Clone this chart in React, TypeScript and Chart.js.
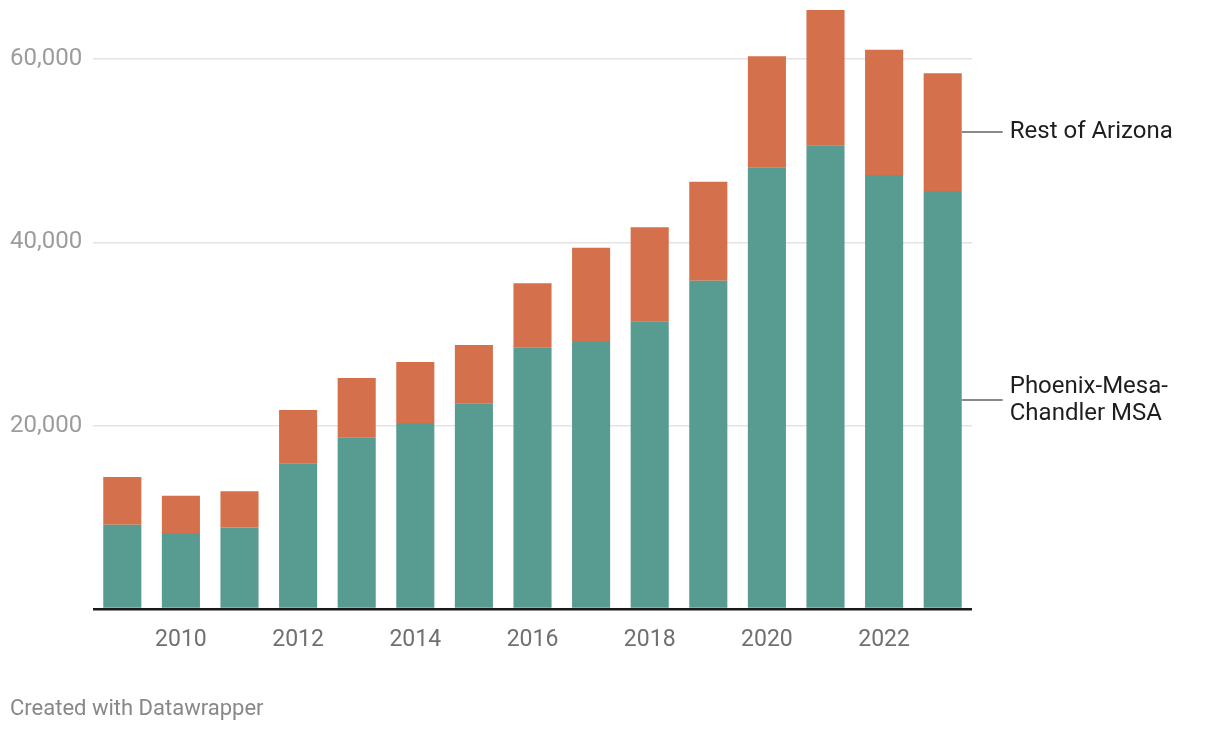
import React, { useEffect, useRef } from "react";
import { Chart, registerables } from "chart.js";

Chart.register(...registerables);

const years = ["2009","2010","2011","2012","2013","2014","2015","2016","2017","2018","2019","2020","2021","2022","2023"];
const phoenix = [9200, 8300, 8900, 15900, 18750, 20300, 22450, 28550, 29250, 31400, 35800, 48200, 50600, 47350, 45600];
const restOfArizona = [5200, 4050, 3950, 5800, 6450, 6650, 6350, 7000, 10150, 10250, 10800, 12100, 14750, 13650, 12850];
const yTicks = [20000, 40000, 60000];
const seriesLabels = ["Phoenix-Mesa-\nChandler MSA", "Rest of Arizona"];

const GREEN = "#579b91";
const ORANGE = "#d4704c";

export default function App() {
  const ref = useRef<HTMLCanvasElement | null>(null);
  useEffect(() => {
    if (!ref.current) return;
    const labelPlugin = {
      id: "endLabels",
      afterDraw(chart: any) {
        const ctx = chart.ctx;
        const y = chart.scales.y;
        ctx.save();
        // y tick labels
        ctx.fillStyle = "#9c9c9c";
        ctx.font = "24px Roboto";
        ctx.textBaseline = "middle";
        ctx.textAlign = "left";
        yTicks.forEach((v) => {
          ctx.fillText(v.toLocaleString("en-US"), 10, y.getPixelForValue(v));
        });
        const last = years.length - 1;
        const meta0 = chart.getDatasetMeta(0).data[last];
        const barRight = meta0.x + meta0.width / 2;
        const segs = [
          { lo: 0, hi: phoenix[last], text: seriesLabels[0] },
          { lo: phoenix[last], hi: phoenix[last] + restOfArizona[last], text: seriesLabels[1] },
        ];
        segs.forEach((s) => {
          const mid = (y.getPixelForValue(s.lo) + y.getPixelForValue(s.hi)) / 2;
          ctx.strokeStyle = "#8a8a8a";
          ctx.lineWidth = 2;
          ctx.beginPath();
          ctx.moveTo(barRight, mid);
          ctx.lineTo(barRight + 41, mid);
          ctx.stroke();
          ctx.fillStyle = "#1e1e1e";
          ctx.font = "24px Roboto";
          ctx.textBaseline = "middle";
          ctx.textAlign = "left";
          const lines = s.text.split("\n");
          const lh = 27;
          lines.forEach((ln, i) => {
            ctx.fillText(ln, barRight + 48, mid + (i - (lines.length - 1) / 2) * lh);
          });
        });
        ctx.restore();
      },
    };
    const chart = new Chart(ref.current, {
      type: "bar",
      data: {
        labels: years,
        datasets: [
          { label: "Phoenix-Mesa-Chandler MSA", data: phoenix, backgroundColor: GREEN, barPercentage: 0.65, categoryPercentage: 1 },
          { label: "Rest of Arizona", data: restOfArizona, backgroundColor: ORANGE, barPercentage: 0.65, categoryPercentage: 1 },
        ],
      },
      options: {
        responsive: false,
        animation: false,
        layout: { padding: { left: 0, top: 4, right: 248, bottom: 0 } },
        plugins: { legend: { display: false }, tooltip: { enabled: false } },
        scales: {
          x: {
            stacked: true,
            offset: true,
            grid: { display: false },
            border: { display: false },
            ticks: {
              autoSkip: false,
              maxRotation: 0,
              padding: 9,
              color: "#707070",
              font: { family: "Roboto", size: 23 },
              callback: (v: any, i: number) => (i % 2 === 1 ? years[i] : ""),
            },
            afterFit: (s: any) => { s.height = 123; },
          },
          y: {
            stacked: true,
            min: 0,
            max: 66000,
            border: { display: false },
            afterBuildTicks: (s: any) => { s.ticks = [0, ...yTicks].map((v) => ({ value: v })); },
            grid: {
              drawTicks: false,
              color: (c: any) => (c.tick && c.tick.value === 0 ? "#1a1a1a" : "#e3e3e3"),
              lineWidth: (c: any) => (c.tick && c.tick.value === 0 ? 2.5 : 1.5),
            },
            ticks: { display: false },
            afterFit: (s: any) => { s.width = 93; },
          },
        },
      },
      plugins: [labelPlugin],
    });
    return () => chart.destroy();
  }, []);
  return (
    <div style={{ position: "absolute", left: 0, top: 0, width: 1220, height: 732, background: "#fff" }}>
      <canvas ref={ref} width={1220} height={732} style={{ position: "absolute", left: 0, top: 0 }} />
      <div style={{ position: "absolute", left: 10, top: 695, fontFamily: "Roboto", fontSize: 22, lineHeight: "26px", color: "#888" }}>
        Created with Datawrapper
      </div>
    </div>
  );
}
